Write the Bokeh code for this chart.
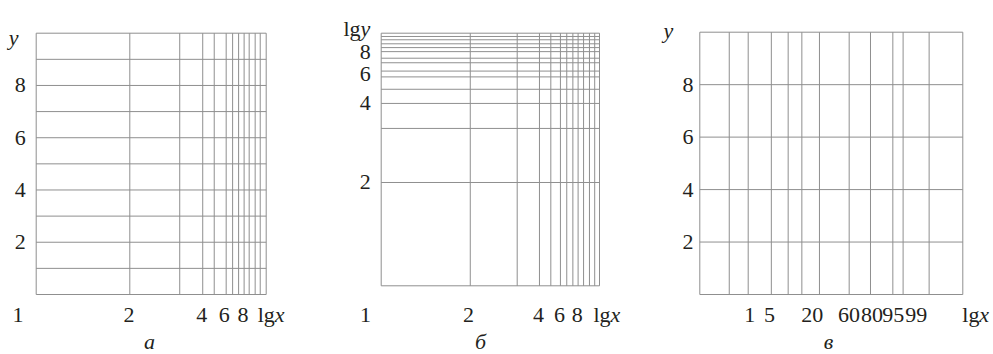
from bokeh.plotting import figure
from bokeh.layouts import row
from bokeh.models import Label, Range1d
from bokeh.embed import file_html
from bokeh.resources import INLINE

FONT = "Liberation Serif"
TEXT = "#231f20"
LINE = "#8f8f8f"
FS = "22px"
LG_W = 17  # width of "lg" at FS, so the italic letter follows it

# ---------------- data ----------------
# Panel a: lg-scale x (normalised: 0 = "1", 1 = right edge), linear y 0..10
a_x_lines = [0.407, 0.624, 0.724, 0.774, 0.826, 0.854, 0.880, 0.904, 0.926, 0.952, 0.974]
a_y_lines = [1, 2, 3, 4, 5, 6, 7, 8, 9]
a_y_ticks = [2, 4, 6, 8]
a_y_tick_text = ["2", "4", "6", "8"]
a_x_label_pos = [-0.079, 0.403, 0.720, 0.818, 0.899]
a_x_label_text = ["1", "2", "4", "6", "8"]

# Panel б: lg-scale x and lg-scale y (normalised)
b_x_lines = [0.408, 0.623, 0.725, 0.777, 0.821, 0.850, 0.878, 0.902, 0.927, 0.954, 0.978]
b_y_lines = [0.409, 0.623, 0.722, 0.778, 0.827, 0.850, 0.883, 0.901, 0.927, 0.943, 0.958, 0.974, 0.987]
b_y_tick_pos = [0.409, 0.722, 0.839, 0.926]
b_y_tick_text = ["2", "4", "6", "8"]
b_x_label_pos = [-0.072, 0.400, 0.721, 0.817, 0.898]
b_x_label_text = ["1", "2", "4", "6", "8"]

# Panel в: probability-scale x (normalised), linear y 0..10
c_x_lines = [0.112, 0.184, 0.272, 0.336, 0.388, 0.455, 0.568, 0.649, 0.734, 0.773, 0.872]
c_y_lines = [2, 4, 6, 8]
c_y_ticks = [2, 4, 6, 8]
c_y_tick_text = ["2", "4", "6", "8"]
c_x_label_pos = [0.190, 0.265, 0.428, 0.567, 0.655, 0.736, 0.823]
c_x_label_text = ["1", "5", "20", "60", "80", "95", "99"]

captions = ["а", "б", "в"]


def make_fig(cw, ch, fl, ft, fr, fb, ytop):
    """Canvas cw x ch; the chart box (data x 0..1, y 0..ytop) sits at pixels fl..fr, ft..fb."""
    sx = (fr - fl)
    sy = (fb - ft) / ytop
    xr = Range1d(-fl / sx, (cw - fl) / sx)
    yr = Range1d(-(ch - fb) / sy, ytop + ft / sy)
    p = figure(width=cw, height=ch, x_range=xr, y_range=yr,
               min_border=0, min_border_left=0, min_border_right=0,
               min_border_top=0, min_border_bottom=0,
               x_axis_location=None, y_axis_location=None,
               toolbar_location=None, output_backend="svg",
               background_fill_color="white", border_fill_color="white",
               outline_line_color=None)
    p.xgrid.visible = False
    p.ygrid.visible = False
    # chart box
    p.quad(left=[0], right=[1], bottom=[0], top=[ytop],
           fill_color=None, line_color=LINE, line_width=1)
    return p


def add_lines(p, xs, ys, ytop):
    p.segment(x0=xs, x1=xs, y0=[0] * len(xs), y1=[ytop] * len(xs),
              line_color=LINE, line_width=1)
    p.segment(x0=[0] * len(ys), x1=[1] * len(ys), y0=ys, y1=ys,
              line_color=LINE, line_width=1)


def add_text(p, x, y, text, yoff=0, align="center", italic=False, xoff=0, baseline="alphabetic"):
    p.add_layout(Label(x=x, y=y, text=text, x_offset=xoff, y_offset=yoff,
                       text_font=FONT, text_font_size=FS, text_color=TEXT,
                       text_align=align, text_baseline=baseline,
                       text_font_style="italic" if italic else "normal"))


def add_yticks(p, pos, texts, standoff):
    for yv, t in zip(pos, texts):
        add_text(p, 0, yv, t, align="right", xoff=-standoff, baseline="middle")


def add_lgx(p, x, yoff):
    add_text(p, x, 0, "lg", yoff, align="left")
    add_text(p, x, 0, "x", yoff, align="left", italic=True, xoff=LG_W)


H = 354

# ---------------- panel a ----------------
pa = make_fig(330, H, 35.7, 32.7, 265.7, 294.0, 10)
add_lines(pa, a_x_lines, a_y_lines, 10)
add_yticks(pa, a_y_ticks, a_y_tick_text, 10.5)
for xp, t in zip(a_x_label_pos, a_x_label_text):
    add_text(pa, xp, 0, t, -20)
add_lgx(pa, 0.963, -20)
add_text(pa, -0.119, 10, "y", -4, align="left", italic=True)
add_text(pa, 0.493, 0, captions[0], -47, italic=True)

# ---------------- panel б ----------------
pb = make_fig(330, H, 50.7, 32.7, 269.0, 285.3, 1)
add_lines(pb, b_x_lines, b_y_lines, 1)
add_yticks(pb, b_y_tick_pos, b_y_tick_text, 10.5)
for xp, t in zip(b_x_label_pos, b_x_label_text):
    add_text(pb, xp, 0, t, -28.7)
add_lgx(pb, 0.972, -28.7)
add_text(pb, -0.173, 1, "lg", 4.4, align="left")
add_text(pb, -0.173, 1, "y", 4.4, align="left", italic=True, xoff=LG_W)
add_text(pb, 0.455, 0, captions[1], -55.7, italic=True)

# ---------------- panel в ----------------
pc = make_fig(333, H, 39.3, 31.7, 302.3, 294.0, 10)
add_lines(pc, c_x_lines, c_y_lines, 10)
add_yticks(pc, c_y_ticks, c_y_tick_text, 6.3)
for xp, t in zip(c_x_label_pos, c_x_label_text):
    add_text(pc, xp, 0, t, -20)
add_lgx(pc, 0.998, -20)
add_text(pc, -0.138, 10, "y", 2, align="left", italic=True)
add_text(pc, 0.489, 0, captions[2], -47, italic=True)

layout = row(pa, pb, pc)
open("out.html", "w").write(file_html(layout, INLINE))
